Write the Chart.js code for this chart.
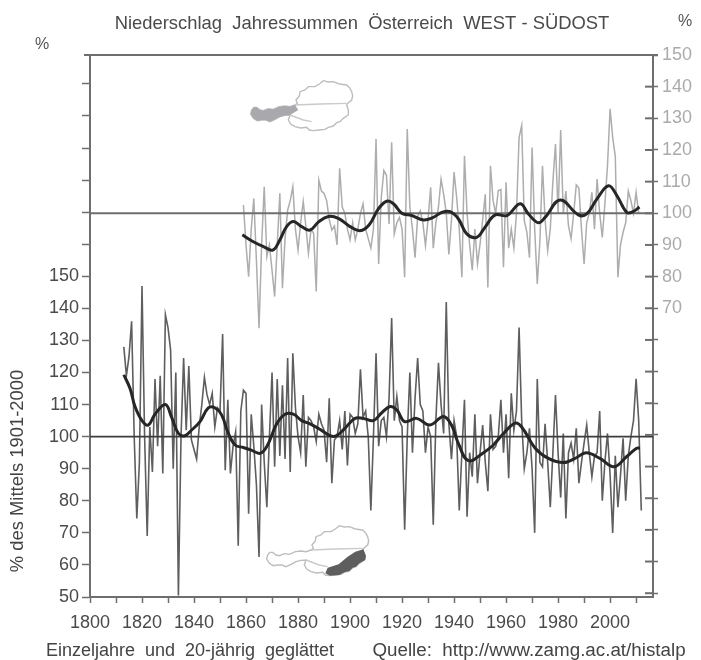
<!DOCTYPE html>
<html>
<head>
<meta charset="utf-8">
<script src="https://cdn.jsdelivr.net/npm/chart.js@4/dist/chart.umd.min.js"></script>
<style>
  html, body { margin: 0; padding: 0; background: #fff; }
  #chart { display: block; filter: blur(0.7px); }
</style>
</head>
<body>
<canvas id="chart" width="701" height="660"></canvas>
<script>
// yearly values, % of the 1901-2000 mean
const southEastStart = 1813;
const southEastValues = [
  128, 119, 125, 136, 100, 74.5, 92, 147, 100, 69, 103, 89, 118, 97, 119, 88.5, 138,
  134, 127, 90, 120, 50.5, 100, 124.5, 102, 122, 99, 96, 93, 103, 110, 118.5, 113, 110,
  113.5, 103, 109, 108, 132, 89.5, 111.5, 88.5, 97, 101.5, 66, 108, 114.5, 113.5, 76, 107,
  97, 85, 62.5, 110, 92, 78, 100, 120, 90.6, 118, 94, 116, 93, 124.5, 89, 126,
  109, 100, 95, 113, 90.6, 106, 105, 103, 98.5, 107, 104, 102, 92, 112, 85.5, 99,
  100, 105, 96, 108, 91, 107, 106, 101, 104, 121, 106, 108, 100, 77, 100, 126,
  97, 105, 106, 100, 112, 137, 105, 112.5, 105, 103, 71, 100, 120, 95, 112, 124.5,
  110, 108, 95, 103, 100, 72.5, 105, 123, 110, 101, 142, 104, 93, 105, 100, 77,
  95, 111.5, 75, 95, 87.5, 107, 85.5, 95, 103.6, 92, 83, 107, 96, 97, 100, 111.5,
  95, 107, 87, 113.5, 102, 108, 134, 105, 90, 95, 102.6, 90, 70, 118, 92, 90.6,
  104, 92, 78, 95, 113, 95, 81, 101, 74.5, 95, 98, 93, 102.6, 85.5, 92, 98,
  103.6, 95, 87.5, 94, 95, 108, 80, 92, 101, 88, 70, 94, 78, 88, 99.5, 80,
  94, 100, 105, 118, 105, 77
];

const westStart = 1859;
const westValues = [
  102.6, 90, 80, 95, 104.7, 85, 63.7, 90, 108.4, 86.3, 90, 82, 73.7, 90, 106.3, 76.3, 92,
  101, 104, 108.4, 95, 88.4, 97, 103.7, 96, 87.4, 95, 93.7, 75.3, 110.5, 107, 106.3,
  104, 98, 94.7, 96, 90, 114.2, 102, 100, 95, 91.6, 97, 91.6, 95, 100, 103, 95,
  92, 89, 95, 123.5, 84, 105, 113.5, 112, 96.6, 122.4, 93.5, 97, 98.7, 95, 79.8, 126.6,
  102, 95, 86, 99, 100.8, 97, 89.8, 98, 108.2, 89, 97, 102, 110.8, 106, 100, 87,
  98, 113, 105, 95, 79.8, 118.2, 100, 90, 82, 95, 84, 90.3, 98, 106, 76.6, 115,
  104, 100, 107.2, 107.5, 83, 109.8, 89, 95, 89, 100, 124, 127.7, 97.7, 94, 86, 120.8,
  95, 77.7, 91, 115, 98, 88.2, 95, 110, 121.9, 100, 126.3, 100, 107, 96, 92, 100,
  109, 108, 95, 84, 97, 100, 106.6, 95, 110.8, 100, 92.4, 103, 115, 133, 124, 118,
  79.8, 90, 94, 97, 107, 104, 100, 106.6, 100
];

// 20 year smoothed curves, read at the turning points
const southEastSmoothYears = [
  1813, 1815.4, 1817.3, 1820, 1822.4, 1825, 1829, 1831.4, 1834, 1836.5, 1839, 1842.3, 1845.5, 1848,
  1850.6, 1853.2, 1855.8, 1859, 1862, 1865.4, 1868, 1871.8, 1875, 1878.2, 1881.4, 1884.6, 1888.4,
  1892.3, 1894.8, 1898, 1901.9, 1905, 1909, 1912, 1915.4, 1918, 1921, 1925.6, 1930.7, 1935.9, 1939,
  1941.6, 1945.5, 1951.3, 1955.1, 1959, 1963.5, 1966, 1971.2, 1976.3, 1982, 1986.5, 1990.8, 1996.1,
  2001.5, 2006.4, 2010.2, 2011.5
];
const southEastSmooth = [
  119.3, 115, 109.4, 105, 103.6, 107, 110, 106, 101, 100.3, 102, 104.7, 109, 109,
  106.8, 101, 97.4, 96.6, 95.8, 94.8, 96.9, 104, 107, 107, 105, 104, 102.3,
  100.3, 100.3, 102.6, 105.7, 105.7, 105, 107.3, 109.4, 108.3, 104.7, 105.7, 103.6, 106.3, 103.6,
  98, 92.5, 95, 97.4, 101, 104.2, 103, 96.4, 93.2, 91.9, 93.2, 95, 93.2,
  90.6, 93.8, 96.4, 96.4
];

const westSmoothYears = [
  1858.6, 1862.8, 1866.7, 1870.3, 1873, 1875.6, 1878.2, 1881.4, 1884.6, 1887.8, 1891.7, 1895.5, 1900,
  1903.8, 1907.3, 1910.9, 1914.1, 1916.7, 1919.9, 1923.7, 1928.2, 1932, 1935.3, 1938.5, 1941.7, 1944.9,
  1948.7, 1951.9, 1955.8, 1960.3, 1965.4, 1968.6, 1972.4, 1975, 1980.8, 1987.8, 1991, 1994.9, 1999.4,
  2002.6, 2006.4, 2009, 2011.3
];
const westSmooth = [
  93.2, 91, 89.5, 88.4, 91.6, 95.8, 97.4, 95.8, 94.7, 97.2, 99, 98.4, 95.8,
  94.5, 96.3, 101.4, 103.8, 103, 100, 99.3, 97.9, 98.7, 100.3, 100.5, 98.2, 93.5,
  92.4, 95.6, 99.5, 99.3, 103, 99.8, 97, 98.7, 104.2, 99.5, 99.8, 104.5, 108.7,
  105.6, 100.3, 100.6, 102
];

const referenceValue = [100, 100];
const referenceYears = [1800, 2016.5];

// outline of Austria and the two shaded regions, in a 125x70 box at 3x
const austriaOutline = [[35,120],[42,112],[50,112],[60,120],[70,122],[85,116],[100,118],[118,110],[135,108],[150,110],[165,105],[172,100],[168,90],[178,78],[180,65],[195,60],[205,50],[225,50],[238,42],[250,32],[265,36],[280,35],[298,42],[320,45],[330,55],[335,65],[338,78],[335,90],[325,98],[320,105],[325,120],[325,135],[310,145],[300,155],[290,158],[280,168],[265,172],[255,178],[238,180],[220,182],[208,180],[200,172],[182,174],[165,170],[152,162],[145,150],[150,135],[135,136],[120,140],[105,148],[90,155],[78,150],[65,150],[52,152],[40,145],[32,132]];
const austriaInner = [[[165,105],[240,102],[320,100]], [[150,135],[190,150],[215,155]]];
const westRegion = [[35,120],[42,112],[50,112],[60,120],[70,122],[85,116],[100,118],[118,110],[135,108],[150,110],[165,105],[175,120],[150,135],[135,136],[120,140],[105,148],[90,155],[78,150],[65,150],[52,152],[40,145],[32,132]];
const southEastRegion = [[322,103],[330,122],[328,135],[310,145],[300,155],[290,158],[280,168],[265,172],[250,180],[222,182],[208,175],[215,158],[248,148],[275,125],[298,110]];

const freeTexts = [
  { text: 'Niederschlag  Jahressummen  Österreich  WEST - SÜDOST', x: 362, y: 24, size: 18.4, color: '#4a4a4a' },
  { text: '%', x: 42, y: 45, size: 16, color: '#555' },
  { text: '%', x: 685, y: 22, size: 16, color: '#555' },
  { text: 'Einzeljahre  und  20-jährig  geglättet', x: 190, y: 651, size: 18, color: '#444' },
  { text: 'Quelle:  http://www.zamg.ac.at/histalp', x: 529, y: 651, size: 18.8, color: '#444' }
];
const yLabel = { text: '% des Mittels 1901-2000', x: 18, y: 471, size: 18.4, color: '#444' };

const axisGrey = '#6e6e6e';
const fontFamily = '"Liberation Sans", Arial, sans-serif';

function yearly(start, values) {
  return values.map(function (v, i) { return { x: start + i, y: v }; });
}
function paired(xs, ys) {
  return xs.map(function (x, i) { return { x: x, y: ys[i] }; });
}

function drawShape(ctx, pts, ox, oy, fill, stroke) {
  ctx.beginPath();
  pts.forEach(function (p, i) {
    const px = ox + p[0] / 3, py = oy + p[1] / 3;
    if (i === 0) ctx.moveTo(px, py); else ctx.lineTo(px, py);
  });
  if (fill) { ctx.closePath(); ctx.fillStyle = fill; ctx.fill(); }
  if (stroke) { ctx.strokeStyle = stroke; ctx.lineWidth = 1.4; ctx.stroke(); }
}

function drawMap(ctx, ox, oy, region, regionColor) {
  const closed = austriaOutline.concat([austriaOutline[0]]);
  drawShape(ctx, closed, ox, oy, null, '#bdbdbd');
  austriaInner.forEach(function (line) { drawShape(ctx, line, ox, oy, null, '#cacaca'); });
  drawShape(ctx, region, ox, oy, regionColor, null);
}

// frame bits, maps and free text
const extras = {
  id: 'extras',
  afterDraw: function (chart) {
    const ctx = chart.ctx, a = chart.chartArea;
    ctx.save();
    ctx.strokeStyle = axisGrey;
    ctx.lineWidth = 2;
    ctx.beginPath();
    ctx.moveTo(a.left - 6, a.top);
    ctx.lineTo(a.right + 5, a.top);
    ctx.stroke();
    // right hand ticks also reach into the plot
    const y2 = chart.scales.y2;
    y2.ticks.forEach(function (t) {
      const py = y2.getPixelForValue(t.value);
      ctx.beginPath();
      ctx.moveTo(a.right - 8, py);
      ctx.lineTo(a.right, py);
      ctx.stroke();
    });
    drawMap(ctx, 240, 70, westRegion, '#a9a9ad');
    drawMap(ctx, 256, 515, southEastRegion, '#5e5e5e');

    ctx.textAlign = 'center';
    ctx.textBaseline = 'middle';
    freeTexts.forEach(function (t) {
      ctx.font = t.size + 'px ' + fontFamily;
      ctx.fillStyle = t.color;
      ctx.fillText(t.text, t.x, t.y);
    });
    ctx.translate(yLabel.x, yLabel.y);
    ctx.rotate(-Math.PI / 2);
    ctx.font = yLabel.size + 'px ' + fontFamily;
    ctx.fillStyle = yLabel.color;
    ctx.fillText(yLabel.text, 0, 0);
    ctx.restore();
  }
};

new Chart(document.getElementById('chart'), {
  type: 'line',
  data: {
    datasets: [
      { data: paired(southEastSmoothYears, southEastSmooth), yAxisID: 'y', borderColor: '#262626', borderWidth: 3, tension: 0.4, order: 1 },
      { data: paired(westSmoothYears, westSmooth), yAxisID: 'y2', borderColor: '#262626', borderWidth: 3, tension: 0.4, order: 2 },
      { data: paired(referenceYears, referenceValue), yAxisID: 'y', borderColor: '#3c3c3c', borderWidth: 1.6, order: 3 },
      { data: paired(referenceYears, referenceValue), yAxisID: 'y2', borderColor: '#6e6e6e', borderWidth: 2, order: 4 },
      { data: yearly(southEastStart, southEastValues), yAxisID: 'y', borderColor: '#5e5e5e', borderWidth: 1.6, order: 5 },
      { data: yearly(westStart, westValues), yAxisID: 'y2', borderColor: '#adadad', borderWidth: 1.5, order: 6 }
    ]
  },
  options: {
    responsive: false,
    animation: false,
    events: [],
    layout: { padding: { top: 55, left: 0, right: 0, bottom: 0 } },
    elements: { point: { radius: 0 }, line: { borderJoinStyle: 'miter' } },
    plugins: { legend: { display: false }, tooltip: { enabled: false } },
    scales: {
      x: {
        type: 'linear',
        min: 1800,
        max: 2016.5,
        afterFit: function (scale) { scale.height = 63; },
        border: { color: axisGrey, width: 2 },
        grid: { drawOnChartArea: false, color: axisGrey, tickLength: 6, tickWidth: 1.5 },
        ticks: {
          stepSize: 10,
          includeBounds: false,
          autoSkip: false,
          maxRotation: 0,
          padding: 9,
          color: '#4a4a4a',
          font: { family: fontFamily, size: 18 },
          callback: function (v) { return v % 20 === 0 ? String(v) : ''; }
        }
      },
      y: {
        position: 'left',
        min: 50,
        max: 219,
        afterFit: function (scale) { scale.width = 90; },
        border: { color: axisGrey, width: 2 },
        grid: { drawOnChartArea: false, color: axisGrey, tickLength: 8, tickWidth: 1.5 },
        ticks: {
          stepSize: 10,
          includeBounds: false,
          autoSkip: false,
          padding: 3,
          color: '#4a4a4a',
          font: { family: fontFamily, size: 18 },
          callback: function (v) { return v <= 150 ? String(v) : ''; }
        }
      },
      y2: {
        position: 'right',
        min: -21.2,
        max: 150,
        afterFit: function (scale) { scale.width = 48; },
        border: { color: axisGrey, width: 2 },
        grid: { drawOnChartArea: false, color: axisGrey, tickLength: 5, tickWidth: 1.5 },
        ticks: {
          stepSize: 10,
          includeBounds: false,
          autoSkip: false,
          padding: 4,
          color: '#ababab',
          font: { family: fontFamily, size: 18 },
          callback: function (v) { return v >= 70 ? String(v) : ''; }
        }
      }
    }
  },
  plugins: [extras]
});
</script>
</body>
</html>
